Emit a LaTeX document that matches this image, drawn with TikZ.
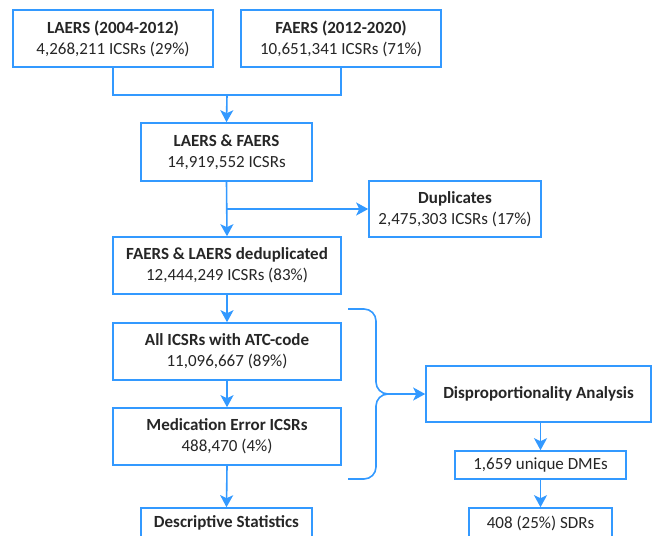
\documentclass[tikz,border=0pt]{standalone}
\usepackage{fontspec}
\setmainfont{Carlito}
\usetikzlibrary{arrows.meta}
\definecolor{fblue}{HTML}{3399FF}
\tikzset{
  box/.style={draw=fblue, line width=1.6pt, fill=white, align=center, inner sep=0pt,
    font=\fontsize{17}{21}\selectfont, text=black!85},
  conn/.style={draw=fblue, line width=1.6pt},
  arr/.style={conn, -{Stealth[length=12pt,width=13pt,inset=3pt]}},
}
\begin{document}
\begin{tikzpicture}[x=1pt,y=-1pt]
\useasboundingbox (0,0) rectangle (652,535);
\clip (0,0) rectangle (652,535);
\node[box, minimum width=200pt, minimum height=57pt] (laers) at (113,38.5)
  {\textbf{LAERS (2004-2012)}\\4,268,211 ICSRs (29\%)};
\node[box, minimum width=200pt, minimum height=57pt] (faers) at (341,38.5)
  {\textbf{FAERS (2012-2020)}\\10,651,341 ICSRs (71\%)};
\node[box, minimum width=171pt, minimum height=58pt] (lf) at (226.5,152)
  {\textbf{LAERS \& FAERS}\\14,919,552 ICSRs};
\node[box, minimum width=172pt, minimum height=56pt] (dup) at (455,209)
  {\textbf{Duplicates}\\2,475,303 ICSRs (17\%)};
\node[box, minimum width=228pt, minimum height=57pt] (dedup) at (227,265.5)
  {\textbf{FAERS \& LAERS deduplicated}\\12,444,249 ICSRs (83\%)};
\node[box, minimum width=228pt, minimum height=57pt] (atc) at (227,351.5)
  {\textbf{All ICSRs with ATC-code}\\11,096,667 (89\%)};
\node[box, minimum width=228pt, minimum height=57pt] (me) at (227,436.5)
  {\textbf{Medication Error ICSRs}\\488,470 (4\%)};
\node[box, minimum width=171pt, minimum height=30pt] (desc) at (226.5,523)
  {\textbf{Descriptive Statistics}};
\node[box, minimum width=225pt, minimum height=56pt] (disp) at (538.5,394)
  {\textbf{Disproportionality Analysis}};
\node[box, minimum width=171pt, minimum height=28pt] (dme) at (540.5,465)
  {1,659 unique DMEs};
\node[box, minimum width=143pt, minimum height=30pt] (sdr) at (540.5,523)
  {408 (25\%) SDRs};

\coordinate (j1) at (227,95);
\draw[conn] (laers.south) |- (j1) -| (faers.south);
\draw[arr] (j1) -- (lf.north);
\draw[arr] (lf.south) -- (dedup.north);
\draw[arr] (lf.south |- dup.west) -- (dup.west);
\draw[arr] (dedup.south) -- (atc.north);
\draw[arr] (atc.south) -- (me.north);
\draw[arr] (me.south) -- (desc.north);

\coordinate (btop) at (348,309);
\coordinate (bbot) at (348,479);
\coordinate (btip) at (384,394);
\draw[conn, rounded corners=12pt] (btop) -- (376,309) -- (376,394) -- (btip);
\draw[conn, rounded corners=12pt] (bbot) -- (376,479) -- (376,394) -- (btip);
\draw[arr] (btip) -- (disp.west);
\draw[arr] (disp.south -| dme.north) -- (dme.north);
\draw[arr] (dme.south) -- (sdr.north);
\end{tikzpicture}
\end{document}
